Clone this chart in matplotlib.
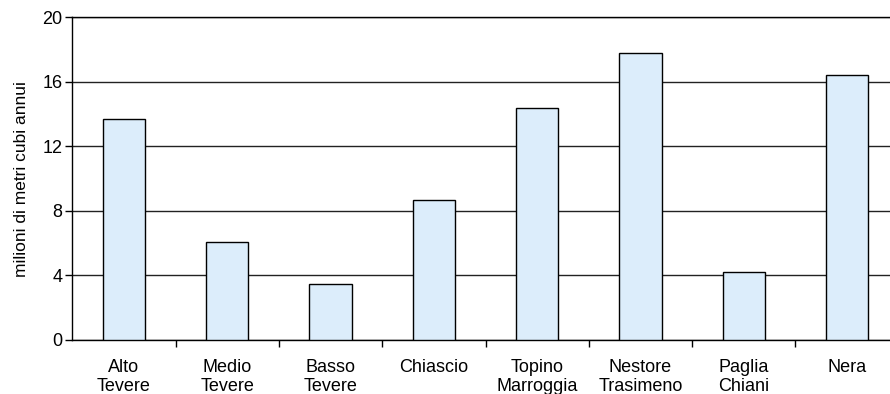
import numpy as np
import matplotlib.pyplot as plt

plt.rcParams['font.family'] = ['Liberation Sans', 'DejaVu Sans']

bacini = ['Alto\nTevere', 'Medio\nTevere', 'Basso\nTevere', 'Chiascio',
          'Topino\nMarroggia', 'Nestore\nTrasimeno', 'Paglia\nChiani', 'Nera']
volumi = [13.7, 6.1, 3.45, 8.7, 14.4, 17.8, 4.2, 16.4]
y_ticks = [0, 4, 8, 12, 16, 20]

def main():
    fig = plt.figure(figsize=(8.9, 3.94), dpi=100)
    # axes run past the right edge of the figure
    ax = fig.add_axes([72.3 / 890, 1 - 340 / 394, 826.4 / 890, 322.7 / 394])

    x = np.arange(len(bacini))
    ax.bar(x, volumi, width=0.41, color='#dcedfb', edgecolor='black',
           linewidth=1.0, zorder=3)

    ax.set_xlim(-0.5, len(bacini) - 0.5)
    ax.set_ylim(0, 20)
    ax.set_yticks(y_ticks)
    ax.set_yticklabels([str(t) for t in y_ticks], fontsize=13)
    ax.yaxis.grid(True, color='#222222', linewidth=1.0, zorder=1)

    ax.set_xticks(x)
    ax.set_xticklabels(bacini, fontsize=13, linespacing=1.1)
    ax.tick_params(axis='x', length=0, pad=14)
    ax.set_xticks(np.arange(len(bacini)) + 0.5, minor=True)
    ax.tick_params(axis='x', which='minor', length=5, width=1, color='black')
    ax.tick_params(axis='y', length=5, width=1, pad=2)

    ax.set_ylabel('milioni di metri cubi annui', fontsize=12.5, labelpad=10)

    for side in ['left', 'bottom', 'top', 'right']:
        ax.spines[side].set_color('black')
        ax.spines[side].set_linewidth(1.0)

    fig.savefig('out.png', dpi=100)

if __name__ == '__main__':
    main()
